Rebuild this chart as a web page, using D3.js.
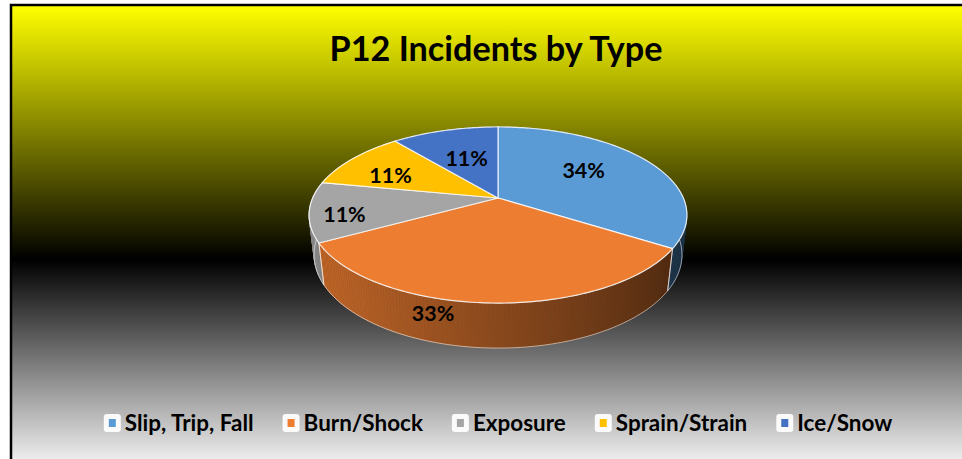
<!DOCTYPE html>
<html>
<head>
<meta charset="utf-8">
<title>P12 Incidents by Type</title>
<script src="https://d3js.org/d3.v7.min.js"></script>
<style>
  body { margin: 0; background: #fff; overflow: hidden; }
  text { font-family: Lato, 'Open Sans', sans-serif; font-weight: bold; fill: #000; }
</style>
</head>
<body>
<div id="chart"></div>
<script>
var categories = ["Slip, Trip, Fall", "Burn/Shock", "Exposure", "Sprain/Strain", "Ice/Snow"];
var values = [34, 33, 11, 11, 11];
var colors = ["#5B9BD5", "#ED7D31", "#A5A5A5", "#FFC000", "#4472C4"];
var title = "P12 Incidents by Type";

// label anchors: [angle offset deg, radius, height] - roughly where excel puts them
var labelSpots = [[-6, 0.6, 0], [15, 1, -0.35], [-4, 0.82, 0], [-5.6, 0.675, 0], [0, 0.55, 0]];

var width = 962, height = 459;

// perspective view of the disc
var cx = 498, cy = 198,
    tilt = 28 * Math.PI / 180,
    dist = 4.57, fx = 847, fy = 825,
    thick = 0.2524;
var st = Math.sin(tilt), ct = Math.cos(tilt);

function proj(a, r, y) {
  var x = r * Math.sin(a), z = r * Math.cos(a);
  var yc = y * ct + z * st, d = dist + z * ct - y * st;
  return [cx + fx * x / d, cy - fy * yc / d];
}

function arcPts(a0, a1, r, y) {
  var n = Math.max(2, Math.ceil((a1 - a0) / (Math.PI / 180)));
  return d3.range(n + 1).map(function(i) { return proj(a0 + (a1 - a0) * i / n, r, y); });
}

var line = d3.line();

var svg = d3.select("#chart").append("svg")
    .attr("width", width)
    .attr("height", height);

var defs = svg.append("defs");
var grad = defs.append("linearGradient")
    .attr("id", "bg")
    .attr("gradientUnits", "userSpaceOnUse")
    .attr("x1", 0).attr("y1", 6)
    .attr("x2", 0).attr("y2", 475);
grad.append("stop").attr("offset", 0).attr("stop-color", "#ffff00");
grad.append("stop").attr("offset", 0.54).attr("stop-color", "#000000");
grad.append("stop").attr("offset", 1).attr("stop-color", "#ffffff");

svg.append("rect")
    .attr("x", 11).attr("y", 5)
    .attr("width", 1000).attr("height", 500)
    .attr("fill", "url(#bg)")
    .attr("stroke", "#000")
    .attr("stroke-width", 2.5);

var pie = d3.pie().sort(null).value(function(d) { return d; });
var slices = pie(values);

// outer wall, cut in little pieces so the shade can change along it
var segs = [];
slices.forEach(function(s, i) {
  var n = Math.max(1, Math.ceil((s.endAngle - s.startAngle) / (Math.PI / 180)));
  for (var k = 0; k < n; k++) {
    var a0 = s.startAngle + (s.endAngle - s.startAngle) * k / n,
        a1 = s.startAngle + (s.endAngle - s.startAngle) * (k + 1) / n;
    segs.push({a0: a0, a1: a1, i: i});
  }
});
segs.sort(function(a, b) { return Math.cos((b.a0 + b.a1) / 2) - Math.cos((a.a0 + a.a1) / 2); });

function shade(d) {
  var t = 0.42 + 0.27 * Math.sin((d.a0 + d.a1) / 2);
  return d3.interpolateRgb(colors[d.i], "#000")(t);
}

svg.append("g").selectAll("path.wall")
    .data(segs)
  .enter().append("path")
    .attr("class", "wall")
    .attr("d", function(d) {
      return line([proj(d.a0, 1, 0), proj(d.a1, 1, 0), proj(d.a1, 1, -thick), proj(d.a0, 1, -thick)]) + "Z";
    })
    .attr("fill", shade)
    .attr("stroke", shade)
    .attr("stroke-width", 0.6);

svg.append("g").selectAll("path.wallEdge")
    .data(slices)
  .enter().append("path")
    .attr("class", "wallEdge")
    .attr("d", function(d) {
      var top = arcPts(d.startAngle, d.endAngle, 1, 0),
          bot = arcPts(d.startAngle, d.endAngle, 1, -thick).reverse();
      return line(top.concat(bot)) + "Z";
    })
    .attr("fill", "none")
    .attr("stroke", "#fff")
    .attr("stroke-opacity", 0.55)
    .attr("stroke-width", 1);

svg.append("g").selectAll("path.top")
    .data(slices)
  .enter().append("path")
    .attr("class", "top")
    .attr("d", function(d) {
      return line([proj(0, 0, 0)].concat(arcPts(d.startAngle, d.endAngle, 1, 0))) + "Z";
    })
    .attr("fill", function(d, i) { return colors[i]; })
    .attr("stroke", "#fff")
    .attr("stroke-opacity", 0.8)
    .attr("stroke-width", 1.2)
    .attr("stroke-linejoin", "round");

// text, squeezed a bit so lato runs as narrow as calibri
var titleText = svg.append("text")
    .attr("x", 496)
    .attr("y", 61)
    .attr("text-anchor", "middle")
    .style("font-size", "33.5px")
    .text(title);
var squeeze = 333 / titleText.node().getComputedTextLength();

function fit(sel) {
  sel.each(function() {
    var w = this.getComputedTextLength();
    d3.select(this).attr("textLength", w * squeeze).attr("lengthAdjust", "spacingAndGlyphs");
  });
}
fit(titleText);

var fmt = d3.format(".0%");
var total = d3.sum(values);

svg.append("g").selectAll("text.lbl")
    .data(slices)
  .enter().append("text")
    .attr("class", "lbl")
    .attr("transform", function(d, i) {
      var p = labelSpots[i],
          mid = (d.startAngle + d.endAngle) / 2 + p[0] * Math.PI / 180,
          xy = proj(mid, p[1], p[2] * thick);
      return "translate(" + xy[0] + "," + xy[1] + ")";
    })
    .attr("text-anchor", "middle")
    .attr("dy", "0.36em")
    .style("font-size", "21px")
    .text(function(d) { return fmt(d.value / total); })
    .call(fit);

// legend
var legend = svg.append("g");
var items = legend.selectAll("g.item")
    .data(categories)
  .enter().append("g")
    .attr("class", "item");

items.append("text")
    .attr("x", 21)
    .attr("y", 431)
    .style("font-size", "22px")
    .text(function(d) { return d; })
    .call(fit);

items.append("rect")
    .attr("x", 0).attr("y", 414)
    .attr("width", 17).attr("height", 18)
    .attr("rx", 3)
    .attr("fill", "#fff")
    .attr("fill-opacity", 0.92);

items.append("rect")
    .attr("x", 5).attr("y", 419)
    .attr("width", 7).attr("height", 8)
    .attr("fill", function(d, i) { return colors[i]; });

var widths = [];
items.select("text").each(function() { widths.push(this.getComputedTextLength()); });
var full = d3.sum(widths, function(w) { return 21 + w; }) + 29 * (categories.length - 1);
var xpos = 498 - full / 2;
items.attr("transform", function(d, i) {
  var x = xpos;
  xpos += 21 + widths[i] + 29;
  return "translate(" + x + ",0)";
});
</script>
</body>
</html>
